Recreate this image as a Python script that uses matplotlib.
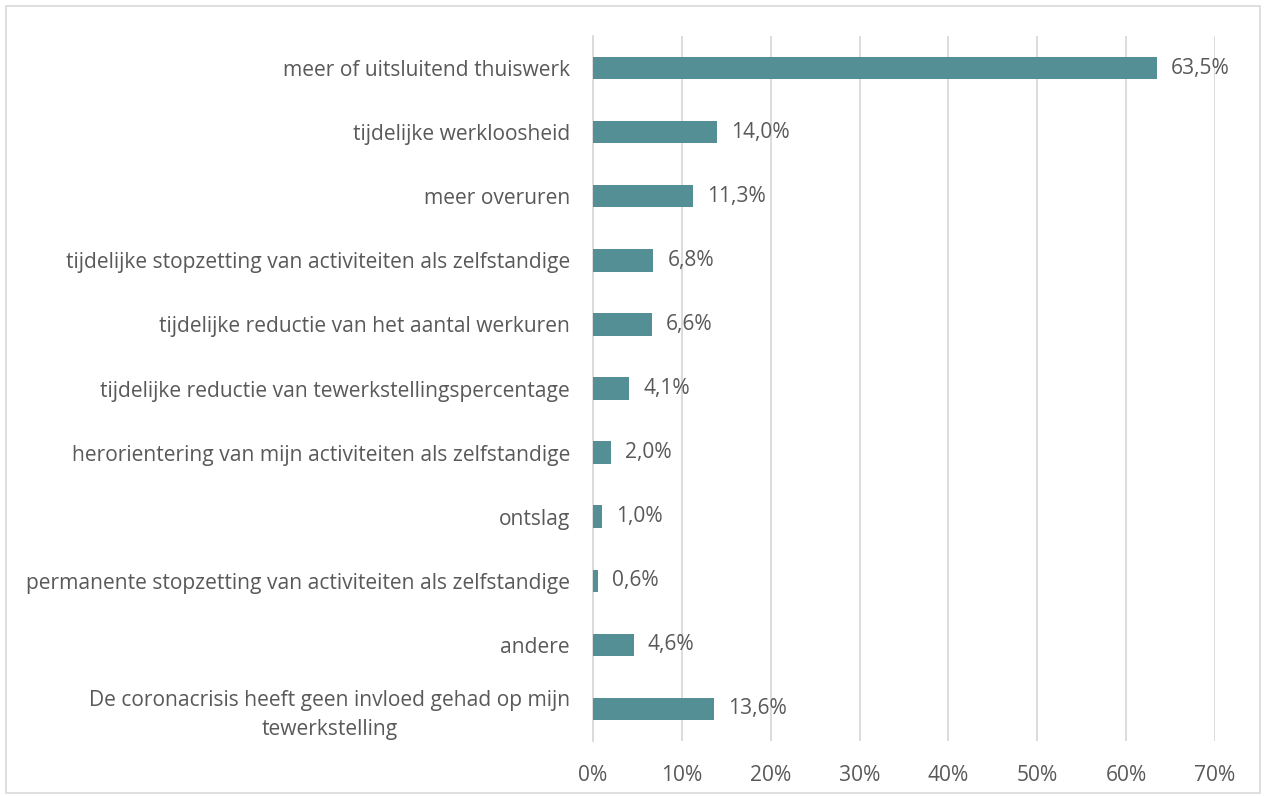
import matplotlib
matplotlib.use("Agg")
import matplotlib.pyplot as plt
from matplotlib.patches import Rectangle

categories = [
    "meer of uitsluitend thuiswerk",
    "tijdelijke werkloosheid",
    "meer overuren",
    "tijdelijke stopzetting van activiteiten als zelfstandige",
    "tijdelijke reductie van het aantal werkuren",
    "tijdelijke reductie van tewerkstellingspercentage",
    "herorientering van mijn activiteiten als zelfstandige",
    "ontslag",
    "permanente stopzetting van activiteiten als zelfstandige",
    "andere",
    "De coronacrisis heeft geen invloed gehad op mijn\ntewerkstelling",
]
values = [63.5, 14.0, 11.3, 6.8, 6.6, 4.1, 2.0, 1.0, 0.6, 4.6, 13.6]
xticks = [0, 10, 20, 30, 40, 50, 60, 70]

plt.rcParams['font.family'] = ['Open Sans', 'DejaVu Sans']
txt = '#595959'
fs = 15.1

fig = plt.figure(figsize=(12.66, 7.96), dpi=100)
ax = fig.add_axes([593/1266, 1-741/796, (1215-593)/1266, (741-36)/796])

ypos = list(range(len(categories)))
ax.barh(ypos, values, height=0.35, color='#548F96', zorder=3)
ax.set_ylim(len(categories)-0.5, -0.5)
ax.set_xlim(0, 70)
ax.set_xticks(xticks)
ax.set_xticklabels([f"{t}%" for t in xticks], color=txt, fontsize=fs)
ax.set_yticks(ypos)
ax.set_yticklabels(categories, color=txt, fontsize=fs, multialignment='center', linespacing=1.45)
ax.tick_params(axis='both', length=0)
ax.tick_params(axis='y', pad=16.5)
ax.tick_params(axis='x', pad=17)
ax.grid(axis='x', color='#D9D9D9', linewidth=1.3, zorder=0)
for s in ['top', 'right', 'bottom']:
    ax.spines[s].set_visible(False)
ax.spines['left'].set_color('#D9D9D9')
ax.spines['left'].set_linewidth(1.3)

for y, v in zip(ypos, values):
    ax.annotate(f"{v:.1f}%".replace('.', ','), (v, y), xytext=(14, 0), textcoords='offset pixels',
                va='center', ha='left', color=txt, fontsize=fs)

fig.patches.append(Rectangle((6/1266, 3/796), 1-12/1266, 1-9/796, transform=fig.transFigure,
                             fill=False, edgecolor='#D9D9D9', linewidth=1.2))
fig.savefig('out.png', dpi=100, facecolor='white')
